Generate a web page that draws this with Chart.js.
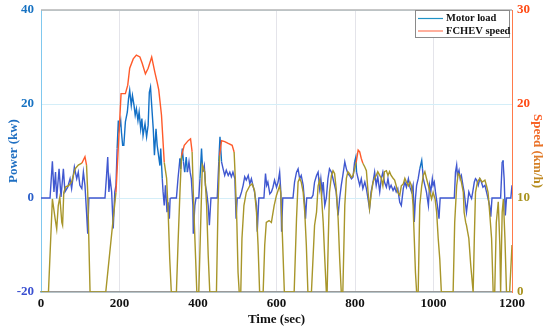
<!DOCTYPE html>
<html>
<head>
<meta charset="utf-8">
<script src="https://cdn.jsdelivr.net/npm/chart.js@4.4.1/dist/chart.umd.min.js"></script>
<style>
  html, body { margin: 0; padding: 0; background: #fff; }
  #wrap { width: 550px; height: 330px; }
</style>
</head>
<body>
<div id="wrap"><canvas id="c" width="550" height="330"></canvas></div>
<script>
// motor load, kW (left axis)
var powerTime = [
  0, 23, 29, 33, 37, 40, 46, 51, 57, 61,
  68, 74, 78, 85, 91, 95, 99, 104, 108, 112,
  116, 119, 122, 163, 167, 170, 173, 176, 180, 184,
  188, 191, 194, 197, 199, 203, 205, 208, 211, 215,
  220, 223, 226, 230, 233, 237, 240, 243, 247, 250,
  254, 257, 260, 265, 269, 273, 276, 279, 282, 286,
  289, 293, 296, 303, 305, 309, 311, 314, 317, 321,
  324, 327, 329, 332, 345, 349, 354, 356, 360, 363,
  366, 370, 373, 377, 380, 383, 387, 388, 392, 395,
  402, 405, 409, 412, 416, 419, 422, 426, 429, 433,
  449, 453, 456, 460, 464, 468, 472, 477, 481, 485,
  489, 494, 497, 500, 506, 511, 515, 519, 523, 528,
  532, 536, 540, 544, 549, 551, 555, 568, 572, 575,
  578, 583, 587, 591, 595, 600, 604, 608, 611, 613,
  616, 642, 646, 651, 655, 659, 663, 668, 672, 674,
  677, 689, 693, 697, 702, 706, 710, 713, 716, 719,
  723, 727, 731, 735, 740, 744, 748, 752, 757, 761,
  765, 769, 774, 778, 782, 786, 791, 795, 799, 802,
  804, 808, 812, 816, 820, 825, 829, 833, 837, 841,
  846, 850, 854, 858, 863, 867, 871, 875, 880, 884,
  888, 892, 897, 901, 905, 909, 914, 918, 923, 927,
  931, 936, 940, 944, 948, 951, 954, 957, 961, 965,
  970, 972, 974, 978, 982, 987, 990, 993, 997, 999,
  1002, 1005, 1010, 1014, 1017, 1053, 1056, 1059, 1061, 1065,
  1068, 1071, 1075, 1078, 1082, 1084, 1087, 1090, 1093, 1097,
  1100, 1104, 1107, 1110, 1114, 1118, 1122, 1126, 1131, 1135,
  1139, 1143, 1146, 1149, 1171, 1175, 1177, 1180, 1183, 1186,
  1197, 1200
];
var powerKw = [
  0, 0, 7.8, 1.3, 5.5, -0.1, 6.2, 0.2, 6.2, 1.3,
  2.3, 4.1, 2.0, 6.6, 4.1, 5.5, 2.7, 2.0, 5.5, 2.7,
  -3.0, -7.6, 0, 0, 4.8, 8.7, 1.3, 4.1, 1.3, -6.5,
  1.3, 2.7, 10.5, 16.5, 14.7, 16.5, 14.0, 11.2, 11.2, 16.2,
  18.3, 21.1, 22.9, 19.7, 21.8, 19.7, 17.6, 19.0, 16.5, 18.3,
  14.7, 16.9, 13.3, 15.8, 13.0, 15.5, 22.5, 23.6, 19.7, 14.7,
  9.1, 14.7, 11.2, 6.9, 10.5, 4.1, 1.3, -1.6, 2.7, -3.0,
  -0.9, -4.4, -0.1, 0, 0, 4.1, 8.4, 6.2, 10.5, 7.7,
  5.5, 8.7, 5.5, 7.7, 5.5, 4.1, -1.6, -7.6, -1.6, 0,
  0, 4.1, 10.5, 5.5, 6.9, 2.7, 1.3, -1.6, -5.8, 0,
  0, 7.7, 13.0, 7.7, 6.2, 4.8, 5.9, 4.8, 5.5, 4.5,
  5.5, 4.1, -4.4, 0, 0, 1.3, 2.7, 4.5, 3.8, 4.8,
  3.0, 4.1, 2.7, 1.3, -1.6, -7.2, 0, 0, 5.2, 2.7,
  3.4, 0.9, 1.3, 2.3, 3.8, 2.3, 3.4, 5.5, 1.3, -7.2,
  0, 0, 3.4, 5.5, 6.2, 4.1, 4.8, 2.7, -1.6, -4.4,
  0, 0, 0.6, 3.4, 4.8, 5.5, 2.0, 4.1, 1.3, 3.4,
  -1.6, 0, 4.1, 6.2, 5.5, 4.1, 2.7, 1.3, -3.7, 0,
  2.7, 4.8, 7.7, 6.2, 5.2, 4.8, 4.1, 4.5, 7.7, 8.7,
  5.5, 4.1, 2.7, 4.1, 2.0, 3.4, 2.0, -0.1, -2.3, 1.3,
  3.4, 5.5, 2.7, 4.5, 1.3, 4.1, 5.5, 3.4, 2.3, 4.1,
  2.0, 2.7, 1.6, 2.3, 1.3, 2.0, -0.9, -1.6, 2.0, 3.4,
  2.3, 4.1, 2.3, 1.3, 2.7, -5.1, -0.1, 2.7, 4.1, 6.2,
  8.0, 6.2, 4.1, 2.7, 1.3, -1.6, 2.7, 1.3, 4.1, 2.7,
  3.4, 1.3, -1.6, -4.4, 0, 0, 5.5, 7.0, 4.8, 5.9,
  4.1, 4.8, 2.7, 1.3, -1.6, -3.0, -0.9, 1.3, 0.6, -0.1,
  1.3, 3.4, 4.1, 3.8, 2.7, 4.1, 3.4, 2.3, 2.7, 1.3,
  -0.1, -1.6, -4.0, 0, 0, 7.7, 8.0, 4.1, -3.7, 0,
  0, 2.7
];

// vehicle speed, km/h (right axis)
var speedTime = [
  0, 19, 29, 36, 40, 44, 48, 53, 55, 58,
  63, 70, 78, 87, 95, 104, 112, 116, 119, 125,
  165, 184, 191, 204, 215, 221, 226, 235, 243, 252,
  258, 266, 273, 282, 290, 296, 300, 307, 314, 320,
  324, 328, 332, 345, 349, 354, 358, 365, 375, 381,
  385, 389, 394, 397, 402, 411, 417, 422, 426, 430,
  447, 451, 455, 460, 468, 477, 487, 492, 495, 499,
  502, 505, 509, 512, 517, 523, 532, 538, 544, 549,
  553, 557, 566, 570, 574, 581, 587, 594, 600, 608,
  611, 615, 620, 645, 651, 655, 659, 663, 668, 672,
  676, 680, 689, 697, 702, 706, 710, 714, 719, 723,
  727, 729, 732, 735, 740, 744, 748, 752, 757, 761,
  765, 769, 774, 778, 782, 786, 791, 795, 799, 803,
  808, 812, 816, 820, 825, 829, 833, 837, 841, 846,
  850, 854, 858, 863, 867, 871, 875, 880, 884, 888,
  892, 897, 901, 905, 909, 914, 918, 923, 927, 931,
  936, 940, 944, 948, 951, 954, 957, 961, 965, 970,
  974, 978, 982, 987, 991, 995, 999, 1004, 1008, 1012,
  1016, 1020, 1050, 1054, 1059, 1063, 1067, 1071, 1076, 1078,
  1082, 1084, 1087, 1090, 1095, 1101, 1104, 1107, 1112, 1118,
  1124, 1131, 1135, 1139, 1143, 1148, 1152, 1156, 1160, 1165,
  1169, 1171, 1175, 1178, 1182, 1186, 1194, 1200
];
var speedKmh = [
  0, 0, 9.9, 7.8, 6.7, 9.2, 10.1, 7.4, 7.1, 10.6,
  11.2, 11.3, 11.7, 13.1, 13.5, 13.7, 14.4, 13.5, 10.6, 0,
  0, 7.8, 10.6, 21.1, 21.1, 22.0, 23.8, 24.8, 25.2, 25.0,
  24.3, 23.2, 23.8, 25.0, 23.4, 22.3, 21.5, 18.8, 13.8, 12.1,
  8.5, 3.5, 0, 0, 5.0, 10.6, 14.5, 15.6, 16.1, 16.3,
  14.9, 9.2, 3.5, 0, 0, 13.5, 12.8, 9.2, 3.9, 0,
  0, 9.2, 14.5, 16.1, 16.0, 15.8, 15.6, 14.9, 12.1, 7.4,
  2.1, 0, 0, 5.7, 9.2, 10.6, 11.3, 11.5, 10.8, 8.5,
  5.0, 0, 0, 5.0, 7.4, 7.6, 7.4, 9.2, 10.3, 11.3,
  10.5, 6.0, 0, 0, 7.8, 11.7, 12.1, 11.7, 10.6, 8.5,
  5.0, 0, 0, 7.1, 8.5, 11.3, 11.9, 10.6, 7.4, 3.5,
  0, 0, 5.7, 10.6, 12.4, 12.9, 12.6, 11.0, 7.8, 3.5,
  0, 0, 9.2, 12.1, 12.8, 12.6, 12.2, 12.4, 13.1, 13.8,
  15.1, 14.9, 14.2, 13.7, 13.3, 12.9, 10.8, 8.9, 10.3, 11.7,
  12.1, 12.4, 12.8, 12.4, 12.1, 11.3, 12.8, 12.9, 12.4, 12.8,
  12.4, 12.1, 11.9, 11.3, 10.6, 10.3, 11.3, 11.5, 12.1, 11.7,
  11.3, 11.7, 11.3, 9.2, 5.7, 2.1, 0, 0, 9.2, 11.3,
  12.4, 12.8, 12.1, 11.3, 10.6, 9.9, 10.6, 9.9, 8.5, 5.7,
  3.5, 0, 0, 7.4, 11.3, 12.6, 12.4, 11.7, 10.6, 8.5,
  7.4, 7.1, 6.4, 5.7, 2.8, 0, 5.7, 10.6, 11.7, 12.1,
  11.7, 11.9, 11.3, 10.6, 8.5, 5.7, 0, 0, 7.4, 9.6,
  5.0, 0, 8.5, 9.9, 5.7, 0, 0, 5.0
];

var seriesNames = ['Motor load', 'FCHEV speed'];
var legendColors = ['#1f93c6', '#ff7a5c'];

var serif = 'Liberation Serif, Times New Roman, serif';

var canvas = document.getElementById('c');
var ctx0 = canvas.getContext('2d');

// right title fades orange -> olive (drawn rotated 90deg, so x runs down)
var speedTitleColor = ctx0.createLinearGradient(-38, 0, 38, 0);
speedTitleColor.addColorStop(0, '#ff5a24');
speedTitleColor.addColorStop(0.55, '#e27a2a');
speedTitleColor.addColorStop(1, '#b0901e');

function pts(xs, ys) {
  return xs.map(function (x, i) { return { x: x, y: ys[i] }; });
}

function avg(ctx) {
  return (ctx.p0.parsed.y + ctx.p1.parsed.y) / 2;
}

// keep the y label overflow from pushing the plot down
function fixY(width) {
  return function (s) {
    s.width = width;
    s.paddingTop = 0;
    s.paddingBottom = 0;
  };
}

// MATLAB-like look: top border and boxed legend in the upper right
var frameAndLegend = {
  id: 'frameAndLegend',
  afterDraw: function (chart) {
    var ctx = chart.ctx;
    var a = chart.chartArea;
    ctx.save();
    ctx.strokeStyle = '#b4b4b4';
    ctx.lineWidth = 1.5;
    ctx.beginPath();
    ctx.moveTo(a.left, a.top);
    ctx.lineTo(a.right, a.top);
    ctx.stroke();

    var bx = 415, by = a.top, bw = 94, bh = 27;
    ctx.fillStyle = '#fff';
    ctx.fillRect(bx, by, bw, bh);
    ctx.strokeStyle = '#8a8a8a';
    ctx.lineWidth = 1;
    ctx.strokeRect(bx + 0.5, by + 0.5, bw, bh);

    ctx.font = 'bold 10.5px ' + serif;
    ctx.textBaseline = 'middle';
    ctx.textAlign = 'left';
    chart.data.datasets.forEach(function (ds, i) {
      var yy = by + 8.5 + i * 12.5;
      ctx.strokeStyle = legendColors[i];
      ctx.lineWidth = 1.2;
      ctx.beginPath();
      ctx.moveTo(bx + 3, yy);
      ctx.lineTo(bx + 28, yy);
      ctx.stroke();
      ctx.fillStyle = '#111';
      ctx.fillText(ds.label, bx + 31, yy);
    });
    ctx.restore();
  }
};

var tickFont = { family: serif, weight: 'bold', size: 13 };
var titleFont = { family: serif, weight: 'bold', size: 13 };

new Chart(ctx0, {
  type: 'line',
  data: {
    datasets: [
      {
        label: seriesNames[0],
        data: pts(powerTime, powerKw),
        yAxisID: 'y',
        order: 1,
        borderWidth: 1.4,
        borderColor: '#2f62cc',
        pointRadius: 0,
        tension: 0,
        segment: {
          borderColor: function (ctx) { return avg(ctx) > 7 ? '#1270c6' : '#4058d0'; }
        }
      },
      {
        label: seriesNames[1],
        data: pts(speedTime, speedKmh),
        yAxisID: 'y1',
        order: 0,
        borderWidth: 1.4,
        borderColor: '#a8962a',
        pointRadius: 0,
        tension: 0,
        segment: {
          borderColor: function (ctx) { return avg(ctx) > 13.6 ? '#ff5a2a' : '#a8962a'; }
        }
      }
    ]
  },
  options: {
    responsive: false,
    devicePixelRatio: 1,
    animation: false,
    layout: { padding: { top: 10, left: 0, right: 0, bottom: 0 } },
    plugins: {
      legend: { display: false },
      tooltip: { enabled: false }
    },
    scales: {
      x: {
        type: 'linear',
        min: 0,
        max: 1200,
        ticks: {
          stepSize: 200, color: '#111', font: tickFont, padding: 4, maxRotation: 0,
          callback: function (v) { return String(v); }
        },
        grid: { color: '#e4e4ea', drawTicks: false },
        border: { color: '#9a9a9a', width: 1.5 },
        title: { display: true, text: 'Time (sec)', color: '#111', font: titleFont, padding: { top: 0, bottom: 3 } },
        afterFit: function (s) { s.height = 38; }
      },
      y: {
        position: 'left',
        min: -20,
        max: 40,
        ticks: {
          stepSize: 20,
          padding: 7,
          font: tickFont,
          color: function (c) { return c.tick.value > 10 ? '#1772c2' : (c.tick.value < -10 ? '#3a4fd0' : '#2a5ec9'); }
        },
        grid: { color: '#d4eef8', drawTicks: false },
        border: { color: '#80c8ee' },
        title: { display: true, text: 'Power (kw)', color: '#1f6fc2', font: titleFont, padding: { top: 6, bottom: 0 } },
        afterFit: fixY(41)
      },
      y1: {
        position: 'right',
        min: 0,
        max: 30,
        ticks: {
          stepSize: 10,
          padding: 5,
          font: tickFont,
          color: function (c) { return c.tick.value > 15 ? '#ff4a14' : '#a8921e'; }
        },
        grid: { display: false, drawTicks: false },
        border: { color: '#ff7a4a' },
        title: { display: true, text: 'Speed (km/h)', color: speedTitleColor, font: titleFont, padding: { top: 5, bottom: 0 } },
        afterFit: fixY(38)
      }
    }
  },
  plugins: [frameAndLegend]
});
</script>
</body>
</html>
